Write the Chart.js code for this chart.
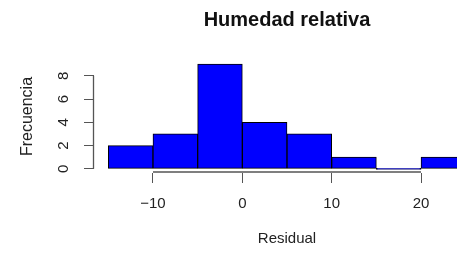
<!DOCTYPE html>
<html lang="es">
<head>
<meta charset="UTF-8">
<title>Humedad relativa</title>
<script src="https://cdn.jsdelivr.net/npm/chart.js@4"></script>
<style>
html,body{margin:0;padding:0;background:#fff;overflow:hidden}
#wrap{width:500px;height:253px}
</style>
</head>
<body>
<div id="wrap"><canvas id="hist" width="500" height="253"></canvas></div>
<script>
// histogram of residuals: bin edges and counts
const breaks = [-15, -10, -5, 0, 5, 10, 15, 20, 25];
const counts = [2, 3, 9, 4, 3, 1, 0, 1];
const xTicks = [-10, 0, 10, 20];
const yTicks = [0, 2, 4, 6, 8];

const FONT = "'Liberation Sans', Arial, Helvetica, sans-serif";
const AXIS = '#555';

const points = counts.map((c, i) => ({ x: (breaks[i] + breaks[i + 1]) / 2, y: c }));

// R draws the axis line only between first and last tick
const axisLines = {
  id: 'axisLines',
  afterDraw(chart) {
    const { ctx, scales: { x, y } } = chart;
    ctx.save();
    ctx.strokeStyle = AXIS;
    ctx.lineWidth = 1.3;
    ctx.beginPath();
    const yb = Math.round(x.top) - 1;
    ctx.moveTo(x.getPixelForValue(xTicks[0]), yb);
    ctx.lineTo(x.getPixelForValue(xTicks[xTicks.length - 1]), yb);
    const xl = Math.round(y.right) - 0.5;
    ctx.moveTo(xl, y.getPixelForValue(yTicks[0]));
    ctx.lineTo(xl, y.getPixelForValue(yTicks[yTicks.length - 1]));
    ctx.stroke();
    ctx.restore();
  }
};

new Chart(document.getElementById('hist'), {
  type: 'bar',
  data: {
    datasets: [{
      data: points,
      backgroundColor: '#0000ff',
      borderColor: '#000',
      borderWidth: 1,
      borderSkipped: false,
      minBarLength: 1,
      barPercentage: 1,
      categoryPercentage: 1
    }]
  },
  options: {
    responsive: false,
    animation: false,
    layout: { padding: { left: 0, right: 20, top: 0, bottom: 0 } },
    plugins: {
      legend: { display: false },
      tooltip: { enabled: false },
      title: {
        display: true,
        text: 'Humedad relativa',
        fullSize: false,
        color: '#111',
        font: { family: FONT, size: 20, weight: 'bold', lineHeight: 1.2 },
        padding: { top: 8, bottom: 28 }
      }
    },
    scales: {
      x: {
        type: 'linear',
        min: -16.6,
        max: 26.6,
        offset: false,
        afterBuildTicks: s => { s.ticks = xTicks.map(v => ({ value: v })); },
        afterFit: s => { s.height = 80; },
        border: { display: false },
        grid: { offset: false, drawOnChartArea: false, drawTicks: true, tickLength: 10, color: AXIS },
        ticks: {
          padding: 12,
          color: '#222',
          maxRotation: 0,
          font: { family: FONT, size: 15 },
          callback: v => String(v).replace('-', '\u2212')
        },
        title: {
          display: true,
          text: 'Residual',
          color: '#222',
          font: { family: FONT, size: 15 },
          padding: { top: 0, bottom: 5 }
        }
      },
      y: {
        min: -0.36,
        max: 9.36,
        afterBuildTicks: s => { s.ticks = yTicks.map(v => ({ value: v })); },
        afterFit: s => { s.width = 94; },
        border: { display: false },
        grid: { drawOnChartArea: false, drawTicks: true, tickLength: 10, color: AXIS },
        ticks: {
          padding: 16,
          color: '#222',
          minRotation: 90,
          maxRotation: 90,
          crossAlign: 'center',
          font: { family: FONT, size: 15 }
        },
        title: {
          display: true,
          text: 'Frecuencia',
          color: '#222',
          font: { family: FONT, size: 16 },
          padding: { top: 18 }
        }
      }
    }
  },
  plugins: [axisLines]
});
</script>
</body>
</html>
